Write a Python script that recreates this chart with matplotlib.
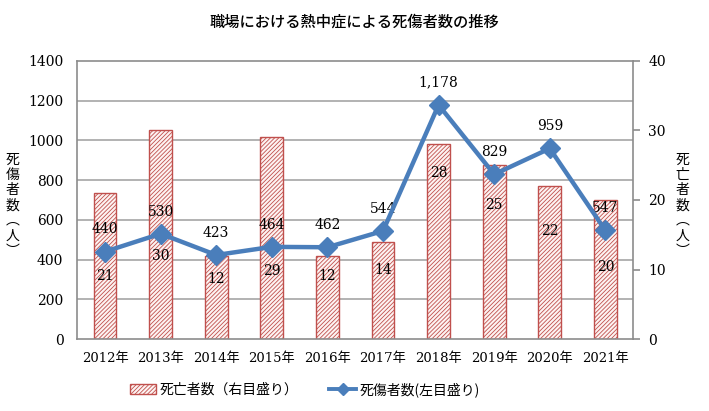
import matplotlib.pyplot as plt
from matplotlib.lines import Line2D
from matplotlib.ticker import MultipleLocator

# データ
years = ['2012年', '2013年', '2014年', '2015年', '2016年',
         '2017年', '2018年', '2019年', '2020年', '2021年']
casualties = [440, 530, 423, 464, 462, 544, 1178, 829, 959, 547]   # 死傷者数（左目盛り）
deaths = [21, 30, 12, 29, 12, 14, 28, 25, 22, 20]                  # 死亡者数（右目盛り）

# 死亡者数ラベルの表示位置（右目盛りの単位）
death_label_y = [9.0, 11.9, 8.6, 9.8, 9.0, 10.0, 23.9, 19.3, 15.6, 10.4]

plt.rcParams['font.family'] = ['DejaVu Serif', 'Noto Sans CJK JP']
plt.rcParams['hatch.linewidth'] = 0.6
jp = ['Noto Sans CJK JP', 'DejaVu Sans']

bar_red = '#c0504d'
line_blue = '#4a7ebb'
grid_gray = '#a6a6a6'

fig = plt.figure(figsize=(7.09, 4.11), dpi=100)
ax = fig.add_axes([0.109, 0.175, 0.784, 0.677])
ax2 = ax.twinx()
x = list(range(len(years)))

# 棒グラフ（死亡者数）: 右目盛り
bars = ax.bar(x, deaths, width=0.41, facecolor='#fdf3f2', edgecolor=bar_red,
              hatch='////////', linewidth=1.0, label='死亡者数（右目盛り）', zorder=2)
ax.set_ylim(0, 40)
ax.set_xlim(-0.5, len(years) - 0.5)
ax.yaxis.tick_right()
ax.yaxis.set_major_locator(MultipleLocator(10))
ax.yaxis.set_minor_locator(MultipleLocator(40 / 7))
ax.grid(which='minor', axis='y', color=grid_gray, linewidth=1.2, zorder=0)
ax.set_axisbelow(True)
ax.tick_params(axis='y', which='major', length=5, width=1.2, color='#8c8c8c',
               pad=6, labelsize=10)
ax.tick_params(axis='y', which='minor', length=0)
ax.set_xticks(x)
ax.set_xticklabels(years)
ax.tick_params(axis='x', length=0, pad=9, labelsize=9.5)
for s in ax.spines.values():
    s.set_color('#8c8c8c')
    s.set_linewidth(1.2)

for xi, v, ly in zip(x, deaths, death_label_y):
    ax.text(xi, ly, str(v), ha='center', va='center', fontsize=10, zorder=3)

# 折れ線グラフ（死傷者数）: 左目盛り
ax2.plot(x, casualties, color=line_blue, linewidth=3.2, marker='D',
         markersize=10, zorder=4)
ax2.set_ylim(0, 1400)
ax2.yaxis.tick_left()
ax2.yaxis.set_major_locator(MultipleLocator(200))
ax2.tick_params(axis='y', length=0, pad=10, labelsize=10)
for s in ax2.spines.values():
    s.set_visible(False)

for xi, v in zip(x, casualties):
    ax2.annotate(f'{v:,}', (xi, v), xytext=(0, 16), textcoords='offset points',
                 ha='center', va='center', fontsize=10)

# 軸ラベル（縦書き）
fig.text(0.018, 0.50, '死\n傷\n者\n数\n︵\n人\n︶', ha='center', va='center',
         fontsize=10, family=jp, linespacing=1.1)
fig.text(0.963, 0.50, '死\n亡\n者\n数\n︵\n人\n︶', ha='center', va='center',
         fontsize=10, family=jp, linespacing=1.1)

fig.text(0.5, 1 - 22 / 411, '職場における熱中症による死傷者数の推移',
         ha='center', va='center', fontsize=11, family=jp, fontweight='medium')

line_handle = Line2D([], [], color=line_blue, linewidth=2.8, marker='D', markersize=6)
fig.legend([bars, line_handle], ['死亡者数（右目盛り）', '死傷者数(左目盛り)'],
           loc='center', bbox_to_anchor=(0.43, 0.052), ncol=2, frameon=False,
           prop={'family': jp, 'size': 10}, handlelength=1.9, columnspacing=2.2,
           handletextpad=0.3)

fig.savefig('out.png', dpi=100)
